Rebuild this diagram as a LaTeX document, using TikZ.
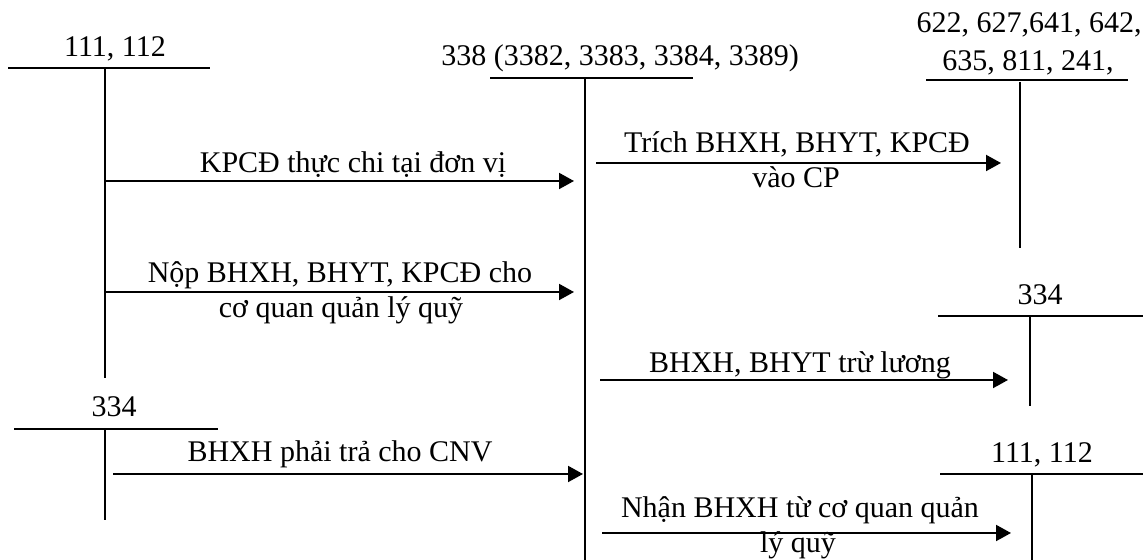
\documentclass[tikz,border=0pt]{standalone}
\usepackage{fontspec}
\setmainfont{Liberation Serif}
\usetikzlibrary{arrows.meta}
\begin{document}
\begin{tikzpicture}[x=0.5pt,y=-0.5pt,
  tline/.style={line width=1pt},
  arr/.style={line width=1pt,-{Triangle[length=7.5pt,width=8pt]}},
  lbl/.style={anchor=base,inner sep=0pt,font=\fontsize{15}{18}\selectfont}]
\useasboundingbox (0,0) rectangle (1147,560);

% ---- T-account 111, 112 (top left)
\node[lbl] (t1) at (115,57) {111, 112};
\coordinate (t1l) at (8,68); \coordinate (t1r) at (210,68);
\coordinate (t1t) at (105,68); \coordinate (t1b) at (105,378);
\draw[tline] (t1l) -- (t1r);
\draw[tline] (t1t) -- (t1b);

% ---- T-account 338
\node[lbl] (t2) at (620,66) {338 (3382, 3383, 3384, 3389)};
\coordinate (t2l) at (490,78); \coordinate (t2r) at (693,78);
\coordinate (t2t) at (585,79); \coordinate (t2b) at (585,560);
\draw[tline] (t2l) -- (t2r);
\draw[tline] (t2t) -- (t2b);

% ---- T-account 622, ...
\node[lbl] (t3a) at (1029,33) {622, 627,641, 642,};
\node[lbl] (t3b) at (1028,71) {635, 811, 241,};
\coordinate (t3l) at (926,80); \coordinate (t3r) at (1128,80);
\coordinate (t3t) at (1020,82); \coordinate (t3bt) at (1020,248);
\draw[tline] (t3l) -- (t3r);
\draw[tline] (t3t) -- (t3bt);

% ---- T-account 334 (right)
\node[lbl] (t4) at (1040,305) {334};
\coordinate (t4l) at (938,316); \coordinate (t4r) at (1143,316);
\coordinate (t4t) at (1030,316); \coordinate (t4b) at (1030,406);
\draw[tline] (t4l) -- (t4r);
\draw[tline] (t4t) -- (t4b);

% ---- T-account 334 (left)
\node[lbl] (t5) at (114,417) {334};
\coordinate (t5l) at (14,429); \coordinate (t5r) at (218,429);
\coordinate (t5t) at (105,429); \coordinate (t5b) at (105,520);
\draw[tline] (t5l) -- (t5r);
\draw[tline] (t5t) -- (t5b);

% ---- T-account 111, 112 (bottom right)
\node[lbl] (t6) at (1042,463) {111, 112};
\coordinate (t6l) at (940,474); \coordinate (t6r) at (1143,474);
\coordinate (t6t) at (1032,474); \coordinate (t6b) at (1032,560);
\draw[tline] (t6l) -- (t6r);
\draw[tline] (t6t) -- (t6b);

% ---- arrows
\coordinate (a1s) at (105,181); \coordinate (a1e) at (574,181);
\draw[arr] (a1s) -- (a1e);
\node[lbl] (l1) at (353,173) {KPCĐ thực chi tại đơn vị};

\coordinate (a2s) at (596,163); \coordinate (a2e) at (1001,163);
\draw[arr] (a2s) -- (a2e);
\node[lbl] (l2a) at (797,153) {Trích BHXH, BHYT, KPCĐ};
\node[lbl] (l2b) at (796,188) {vào CP};

\coordinate (a3s) at (105,292); \coordinate (a3e) at (574,292);
\draw[arr] (a3s) -- (a3e);
\node[lbl] (l3a) at (340,283) {Nộp BHXH, BHYT, KPCĐ cho};
\node[lbl] (l3b) at (341,318) {cơ quan quản lý quỹ};

\coordinate (a4s) at (600,380); \coordinate (a4e) at (1008,380);
\draw[arr] (a4s) -- (a4e);
\node[lbl] (l4) at (800,373) {BHXH, BHYT trừ lương};

\coordinate (a5s) at (113,474); \coordinate (a5e) at (583,474);
\draw[arr] (a5s) -- (a5e);
\node[lbl] (l5) at (340,462) {BHXH phải trả cho CNV};

\coordinate (a6s) at (602,533); \coordinate (a6e) at (1011,533);
\draw[arr] (a6s) -- (a6e);
\node[lbl] (l6a) at (800,518) {Nhận BHXH từ cơ quan quản};
\node[lbl] (l6b) at (798,553) {lý quỹ};
\end{tikzpicture}
\end{document}
